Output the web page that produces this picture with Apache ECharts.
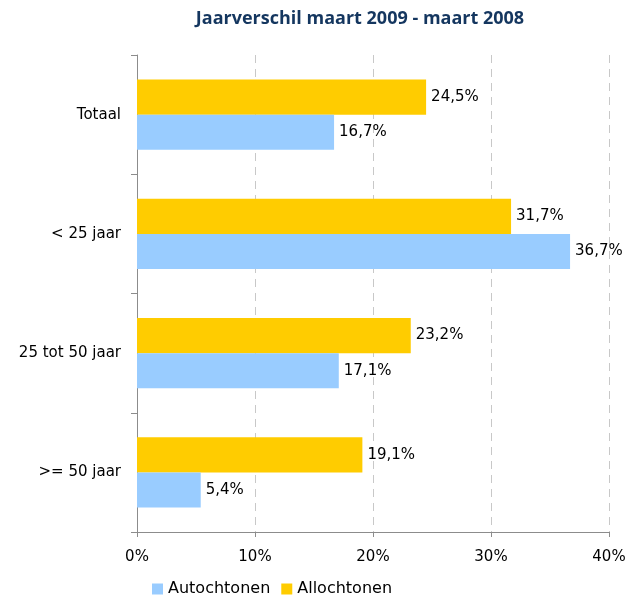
<!DOCTYPE html>
<html>
<head>
<meta charset="utf-8">
<script src="https://cdn.jsdelivr.net/npm/echarts@6/dist/echarts.min.js"></script>
<style>
  html, body { margin: 0; padding: 0; background: #fff; }
  #chart { width: 630px; height: 599px; }
</style>
</head>
<body>
<div id="chart"></div>
<script>
const categories = ['Totaal', '< 25 jaar', '25 tot 50 jaar', '>= 50 jaar']
const allochtonen = [24.5, 31.7, 23.2, 19.1]
const autochtonen = [16.7, 36.7, 17.1, 5.4]
const xTicks = [0, 10, 20, 30, 40]

const chart = echarts.init(document.getElementById('chart'))

const txtFont = 'DejaVu Sans, Verdana, sans-serif'
const fmt = p => String(p.value).replace('.', ',') + '%'
const labelStyle = {
  show: true,
  position: 'right',
  distance: 5,
  formatter: fmt,
  color: '#000',
  fontFamily: txtFont,
  fontSize: 15
}

chart.setOption({
  animation: false,
  title: {
    text: 'Jaarverschil maart 2009 - maart 2008',
    left: 355,
    top: 5,
    textAlign: 'center',
    textStyle: {
      color: '#14365F',
      fontSize: 18,
      fontWeight: 'bold',
      fontFamily: 'Open Sans, Lato, sans-serif'
    }
  },
  legend: {
    data: ['Autochtonen', 'Allochtonen'],
    bottom: 2,
    left: 152,
    padding: 0,
    icon: 'rect',
    itemWidth: 11,
    itemHeight: 11,
    itemGap: 11,
    textStyle: {
      color: '#000',
      fontSize: 16,
      fontFamily: txtFont
    }
  },
  grid: {
    left: 137,
    right: 21,
    top: 55,
    bottom: 67,
    containLabel: false
  },
  xAxis: {
    type: 'value',
    min: xTicks[0],
    max: xTicks[xTicks.length - 1],
    interval: 10,
    axisLine: { show: true, lineStyle: { color: '#8c8c8c' } },
    axisTick: { show: true, length: 5, lineStyle: { color: '#8c8c8c' } },
    axisLabel: {
      formatter: '{value}%',
      color: '#000',
      fontSize: 15,
      margin: 18,
      fontFamily: txtFont
    },
    splitLine: {
      show: true,
      lineStyle: { color: '#c8c8c8', type: [8, 6] }
    }
  },
  yAxis: {
    type: 'category',
    data: categories,
    inverse: true,
    axisLine: { show: true, lineStyle: { color: '#8c8c8c' } },
    axisTick: { show: true, length: 6, lineStyle: { color: '#8c8c8c' } },
    axisLabel: {
      color: '#000',
      fontSize: 15,
      margin: 16,
      fontFamily: txtFont
    },
    splitLine: { show: false }
  },
  series: [
    {
      name: 'Allochtonen',
      type: 'bar',
      data: allochtonen,
      barGap: '0%',
      barCategoryGap: '41%',
      itemStyle: { color: '#FFCC00' },
      label: labelStyle
    },
    {
      name: 'Autochtonen',
      type: 'bar',
      data: autochtonen,
      barGap: '0%',
      barCategoryGap: '41%',
      itemStyle: { color: '#99CCFF' },
      label: labelStyle
    }
  ]
})
</script>
</body>
</html>
